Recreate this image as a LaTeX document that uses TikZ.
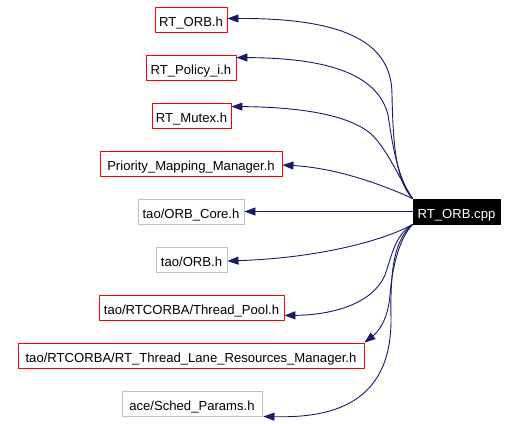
\documentclass[tikz,border=0pt]{standalone}
\usepackage{fontspec}
\setmainfont{Liberation Sans}
\usetikzlibrary{arrows.meta}
\definecolor{edgeblue}{HTML}{191970}
\definecolor{boxgray}{HTML}{BFBFBF}
\tikzset{
  hbox/.style={draw, minimum height=25pt, inner sep=0pt, text height=14pt, text depth=0pt, line width=0.9pt, font=\fontsize{13.1pt}{15pt}\selectfont, text=black},
  redbox/.style={hbox, draw=red},
  graybox/.style={hbox, draw=boxgray},
  mainbox/.style={hbox, draw=black, fill=black, text=white},
  dep/.style={draw=edgeblue, line width=0.9pt, -{Triangle[length=11pt,width=8pt,fill=edgeblue]}}
}
\begin{document}
\begin{tikzpicture}[x=1pt,y=-1pt]
\useasboundingbox (0,0) rectangle (518,423);
\fill[white] (0,0) rectangle (518,423);
\node[redbox, minimum width=72pt] (orbh) at (191,19.5) {RT\_ORB.h};
\node[redbox, minimum width=90pt] (pol) at (191,67.5) {RT\_Policy\_i.h};
\node[redbox, minimum width=79pt] (mut) at (191.5,115.5) {RT\_Mutex.h};
\node[redbox, minimum width=182pt] (pmm) at (191,163.5) {Priority\_Mapping\_Manager.h};
\node[graybox, minimum width=106pt] (core) at (191,211.5) {tao/ORB\_Core.h};
\node[mainbox, minimum width=87pt] (cpp) at (456.5,211.5) {RT\_ORB.cpp};
\node[graybox, minimum width=71pt] (taoorb) at (191.5,259.5) {tao/ORB.h};
\node[redbox, minimum width=185pt] (tp) at (191.5,307.5) {tao/RTCORBA/Thread\_Pool.h};
\node[redbox, minimum width=346pt] (lane) at (191,355.5) {tao/RTCORBA/RT\_Thread\_Lane\_Resources\_Manager.h};
\node[graybox, minimum width=140pt] (sched) at (192,403.5) {ace/Sched\_Params.h};

\draw[dep] (cpp.north west) .. controls (395,180) and (393,140) .. (392,95) .. controls (392,45) and (350,18) .. ([yshift=1pt]orbh.east);
\draw[dep] (cpp.north west) .. controls (396,175) and (392,140) .. (388,115) .. controls (378,75) and (330,58) .. ([yshift=-3pt]pol.north east);
\draw[dep] (cpp.north west) .. controls (400,180) and (390,155) .. (375,138) .. controls (355,115) and (300,107) .. ([yshift=-4pt]mut.north east);
\draw[dep] (cpp.north west) .. controls (390,188) and (340,168) .. ([yshift=-1.5pt]pmm.east);
\draw[dep] (cpp.west) -- (core.east);
\draw[dep] (cpp.south west) .. controls (385,240) and (320,258) .. ([yshift=-1.5pt]taoorb.east);
\draw[dep] (cpp.south west) .. controls (395,235) and (392,255) .. (385,275) .. controls (372,305) and (330,315) .. ([yshift=5pt]tp.south east);
\draw[dep] (cpp.south west) .. controls (398,240) and (392,270) .. (390,295) .. controls (388,320) and (378,332) .. (lane.north east);
\draw[dep] (cpp.south west) .. controls (395,240) and (390,265) .. (391,320) .. controls (391,405) and (330,418) .. ([xshift=1pt]sched.south east);
\end{tikzpicture}
\end{document}
